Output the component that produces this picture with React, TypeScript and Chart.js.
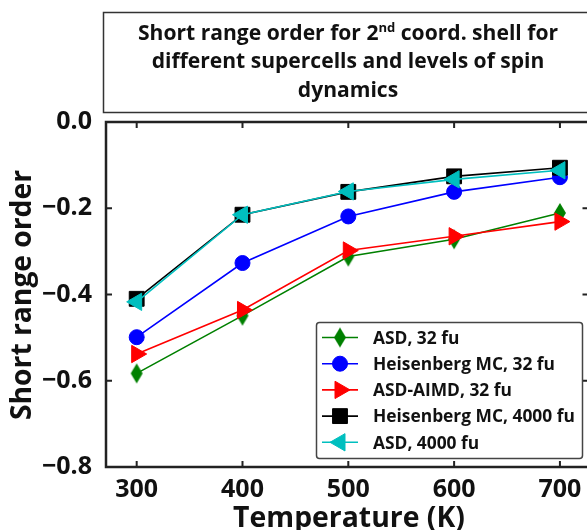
import React, { useEffect, useRef } from 'react';
import { Chart, registerables } from 'chart.js';
import { drawPoint } from 'chart.js/helpers';

Chart.register(...registerables);

const temperatures = [300, 400, 500, 600, 700];
const asd32 = [-0.583, -0.449, -0.312, -0.272, -0.211];
const heisMc32 = [-0.499, -0.327, -0.219, -0.162, -0.128];
const asdAimd32 = [-0.538, -0.436, -0.298, -0.265, -0.231];
const heisMc4000 = [-0.41, -0.215, -0.162, -0.126, -0.106];
const asd4000 = [-0.417, -0.215, -0.161, -0.133, -0.112];

const seriesLabels = ['ASD, 32 fu', 'Heisenberg MC, 32 fu', 'ASD-AIMD, 32 fu', 'Heisenberg MC, 4000 fu', 'ASD, 4000 fu'];
const seriesColors = ['#008000', '#0000ff', '#ff0000', '#000000', '#00bfbf'];
const xTickValues = [300, 400, 500, 600, 700];
const yTickValues = [0, -0.2, -0.4, -0.6, -0.8];
const titleLine1Before = 'Short range order for 2';
const titleLine1Sup = 'nd';
const titleLine1After = ' coord. shell for';
const titleLine2 = 'different supercells and levels of spin';
const titleLine3 = 'dynamics';
const xAxisTitle = 'Temperature (K)';
const yAxisTitle = 'Short range order';

const FONT = '"Open Sans", Lato, sans-serif';

function makeThinDiamond(color: string) {
  const c = document.createElement('canvas');
  c.width = 14;
  c.height = 22;
  const g = c.getContext('2d')!;
  g.fillStyle = color;
  g.beginPath();
  g.moveTo(7, 1);
  g.lineTo(13, 11);
  g.lineTo(7, 21);
  g.lineTo(1, 11);
  g.closePath();
  g.fill();
  return c;
}

function fmt(v: number) {
  const s = Math.abs(v).toFixed(1);
  return v < -1e-9 ? '\u2212' + s : s;
}

function fitSize(ctx: CanvasRenderingContext2D, text: string, target: number) {
  ctx.font = `bold 100px ${FONT}`;
  return (100 * target) / ctx.measureText(text).width;
}

export default function App() {
  const ref = useRef<HTMLCanvasElement | null>(null);

  useEffect(() => {
    const canvas = ref.current!;
    const diamond = makeThinDiamond(seriesColors[0]);
    const styles: any[] = [
      { pointStyle: diamond, radius: 10, rotation: 0 },
      { pointStyle: 'circle', radius: 7.5, rotation: 0 },
      { pointStyle: 'triangle', radius: 10, rotation: 90 },
      { pointStyle: 'rect', radius: 10.5, rotation: 0 },
      { pointStyle: 'triangle', radius: 10, rotation: -90 },
    ];
    const values = [asd32, heisMc32, asdAimd32, heisMc4000, asd4000];

    const datasets = values.map((vals, i) => ({
      label: seriesLabels[i],
      data: temperatures.map((t, k) => ({ x: t, y: vals[k] })),
      borderColor: seriesColors[i],
      backgroundColor: seriesColors[i],
      borderWidth: 1.6,
      pointStyle: styles[i].pointStyle,
      pointRadius: styles[i].radius,
      pointRotation: styles[i].rotation,
      pointBorderWidth: 1,
      pointBorderColor: seriesColors[i],
      pointBackgroundColor: seriesColors[i],
      order: 5 - i,
      tension: 0,
    }));

    const decorPlugin = {
      id: 'decor',
      afterDraw(chart: any) {
        const { ctx, chartArea: a, scales } = chart;
        const xs = scales.x;
        const ys = scales.y;
        ctx.save();
        // frame
        ctx.strokeStyle = '#222';
        ctx.lineWidth = 2.5;
        ctx.strokeRect(a.left, a.top, a.right - a.left, a.bottom - a.top);
        // inward ticks
        ctx.lineWidth = 2;
        const tl = 6;
        xTickValues.forEach((v) => {
          const px = xs.getPixelForValue(v);
          ctx.beginPath();
          ctx.moveTo(px, a.bottom);
          ctx.lineTo(px, a.bottom - tl);
          ctx.moveTo(px, a.top);
          ctx.lineTo(px, a.top + tl);
          ctx.stroke();
        });
        yTickValues.forEach((v) => {
          const py = ys.getPixelForValue(v);
          ctx.beginPath();
          ctx.moveTo(a.left, py);
          ctx.lineTo(a.left + tl, py);
          ctx.moveTo(a.right, py);
          ctx.lineTo(a.right - tl, py);
          ctx.stroke();
        });

        // title box
        ctx.lineWidth = 1.5;
        ctx.strokeStyle = '#333';
        ctx.strokeRect(103.5, 12.5, 490, 100);
        ctx.fillStyle = '#111';
        ctx.textBaseline = 'alphabetic';
        const ts = fitSize(ctx, titleLine2, 393);
        const tf = `bold ${ts}px ${FONT}`;
        const sf = `bold ${ts * 0.62}px ${FONT}`;
        const cx = 348;
        ctx.font = tf;
        const w1 = ctx.measureText(titleLine1Before).width;
        const w3 = ctx.measureText(titleLine1After).width;
        ctx.font = sf;
        const w2 = ctx.measureText(titleLine1Sup).width;
        let sx = cx - (w1 + w2 + w3) / 2;
        ctx.textAlign = 'left';
        ctx.font = tf;
        ctx.fillText(titleLine1Before, sx, 40);
        sx += w1;
        ctx.font = sf;
        ctx.fillText(titleLine1Sup, sx, 32);
        sx += w2;
        ctx.font = tf;
        ctx.fillText(titleLine1After, sx, 40);
        ctx.textAlign = 'center';
        ctx.fillText(titleLine2, cx, 68);
        ctx.fillText(titleLine3, cx, 97);

        // axis titles
        ctx.fillStyle = '#111';
        ctx.textAlign = 'center';
        ctx.textBaseline = 'alphabetic';
        const xsz = fitSize(ctx, xAxisTitle, 232);
        ctx.font = `bold ${xsz}px ${FONT}`;
        ctx.fillText(xAxisTitle, 349, 507 + 0.714 * xsz);
        const ysz = fitSize(ctx, yAxisTitle, 250);
        ctx.save();
        ctx.translate(24 + 0.26 * ysz, 295);
        ctx.rotate(-Math.PI / 2);
        ctx.font = `bold ${ysz}px ${FONT}`;
        ctx.fillText(yAxisTitle, 0, 0);
        ctx.restore();

        // legend
        const lx = 316.5, ly = 322.5, lw = 266, lh = 136;
        ctx.fillStyle = '#fff';
        ctx.strokeStyle = '#444';
        ctx.lineWidth = 1.5;
        ctx.beginPath();
        if ((ctx as any).roundRect) (ctx as any).roundRect(lx, ly, lw, lh, 3);
        else ctx.rect(lx, ly, lw, lh);
        ctx.fill();
        ctx.stroke();
        const lsz = fitSize(ctx, seriesLabels[3], 202);
        ctx.font = `bold ${lsz}px ${FONT}`;
        ctx.textAlign = 'left';
        ctx.textBaseline = 'alphabetic';
        seriesLabels.forEach((lab, i) => {
          const rowY = 337.5 + i * 26.2;
          ctx.strokeStyle = seriesColors[i];
          ctx.lineWidth = 1.6;
          ctx.beginPath();
          ctx.moveTo(322, rowY);
          ctx.lineTo(358, rowY);
          ctx.stroke();
          ctx.fillStyle = seriesColors[i];
          ctx.strokeStyle = seriesColors[i];
          ctx.lineWidth = 1;
          drawPoint(ctx, { pointStyle: styles[i].pointStyle, rotation: styles[i].rotation, radius: styles[i].radius, borderWidth: 1 } as any, 340, rowY);
          ctx.fillStyle = '#111';
          ctx.fillText(lab, 373, rowY + 0.357 * lsz);
        });
        ctx.restore();
      },
    };

    const chart = new Chart(canvas, {
      type: 'line',
      data: { datasets: datasets as any },
      options: {
        animation: false,
        responsive: false,
        devicePixelRatio: 1,
        layout: { padding: { left: 0, top: 122, right: 11, bottom: 0 } },
        plugins: { legend: { display: false }, title: { display: false }, tooltip: { enabled: false } },
        scales: {
          x: {
            type: 'linear',
            min: 271,
            max: 727,
            grid: { display: false },
            border: { display: false },
            afterFit: (s: any) => { s.height = 63; },
            afterBuildTicks: (s: any) => { s.ticks = xTickValues.map((v) => ({ value: v })); },
            ticks: {
              font: { family: FONT, size: 25, weight: 'bold' },
              color: '#111',
              padding: 0,
              maxRotation: 0,
              callback: (v: any) => String(v),
            },
          },
          y: {
            type: 'linear',
            min: -0.8,
            max: 0,
            grid: { display: false },
            border: { display: false },
            afterFit: (s: any) => { s.width = 106; },
            afterBuildTicks: (s: any) => { s.ticks = yTickValues.map((v) => ({ value: v })); },
            ticks: {
              font: { family: FONT, size: 25, weight: 'bold' },
              color: '#111',
              padding: 6,
              callback: (v: any) => fmt(Number(v)),
            },
          },
        },
      },
      plugins: [decorPlugin],
    });
    return () => chart.destroy();
  }, []);

  return (
    <div style={{ position: 'absolute', left: 0, top: 0, width: 587, height: 530, overflow: 'hidden', background: '#fff' }}>
      <canvas ref={ref} width={600} height={530} style={{ width: 600, height: 530, display: 'block' }} />
    </div>
  );
}
